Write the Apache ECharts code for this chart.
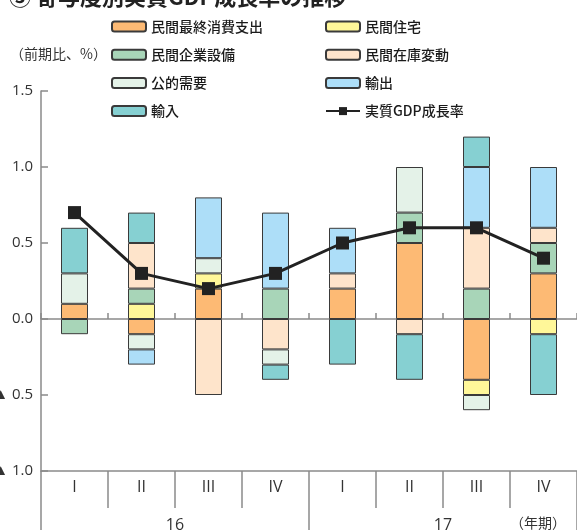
<!DOCTYPE html>
<html>
<head>
<meta charset="utf-8">
<script src="https://cdn.jsdelivr.net/npm/echarts@6/dist/echarts.min.js"></script>
<style>
  html, body { margin: 0; padding: 0; background: #fff; }
  #chart { width: 577px; height: 530px; }
</style>
</head>
<body>
<div id="chart"></div>
<script>
// Quarterly contributions to real GDP growth (q/q, %)
const quarters = ['I', 'II', 'III', 'IV', 'I', 'II', 'III', 'IV'];
const years = ['16', '17'];

const consumption  = [0.1, -0.1, 0.2, 0, 0.2, 0.5, -0.4, 0.3];
const housing      = [0, 0.1, 0.1, 0, 0, 0, -0.1, -0.1];
const capex        = [-0.1, 0.1, 0, 0.2, 0, 0.2, 0.2, 0.2];
const inventory    = [0, 0.3, -0.5, -0.2, 0.1, -0.1, 0.4, 0.1];
const publicDemand = [0.2, -0.1, 0.1, -0.1, 0, 0.3, -0.1, 0];
const exportsC     = [0, -0.1, 0.4, 0.5, 0.3, 0, 0.4, 0.4];
const importsC     = [0.3, 0.2, 0, -0.1, -0.3, -0.3, 0.2, -0.4];
const gdpGrowth    = [0.7, 0.3, 0.2, 0.3, 0.5, 0.6, 0.6, 0.4];

const yTicks = { min: -1, max: 1.5, interval: 0.5 };

const barDefs = [
  { name: '民間最終消費支出', data: consumption,  color: '#FDBA74' },
  { name: '民間住宅',         data: housing,      color: '#FFF799' },
  { name: '民間企業設備',     data: capex,        color: '#A8D5B8' },
  { name: '民間在庫変動',     data: inventory,    color: '#FEE4CB' },
  { name: '公的需要',         data: publicDemand, color: '#E4F2E8' },
  { name: '輸出',             data: exportsC,     color: '#ADDEF8' },
  { name: '輸入',             data: importsC,     color: '#86D0D2' }
];

const axisGray = '#8a8a8a';
const fontLatin = '"Open Sans", sans-serif';
const fontJP = '"Noto Sans CJK JP", sans-serif';

const series = barDefs.map(d => ({
  name: d.name,
  type: 'bar',
  stack: 'contrib',
  xAxisIndex: 0,
  barWidth: 27,
  data: d.data.map(v => (v === 0 ? null : v)),
  itemStyle: { color: d.color, borderColor: '#3a3a3a', borderWidth: 1 },
  emphasis: { disabled: true }
}));

series.push({
  name: '実質GDP成長率',
  type: 'line',
  xAxisIndex: 0,
  data: gdpGrowth,
  symbol: 'rect',
  symbolSize: 13,
  lineStyle: { color: '#222', width: 3 },
  itemStyle: { color: '#222' },
  z: 10
});

const legendBase = {
  orient: 'vertical',
  padding: 0,
  itemWidth: 34,
  itemHeight: 10,
  itemGap: 9.2,
  itemTextGap: 4,
  selectedMode: false,
  textStyle: { fontSize: 14, lineHeight: 19, color: '#1a1a1a', fontFamily: fontJP, fontWeight: 500 }
};

const chart = echarts.init(document.getElementById('chart'), null, { renderer: 'canvas' });

chart.setOption({
  animation: false,
  title: {
    text: '③ 寄与度別実質GDP成長率の推移',
    left: 4,
    top: -19,
    textStyle: { fontSize: 22, fontWeight: 'bold', color: '#222', fontFamily: fontJP }
  },
  legend: [
    Object.assign({}, legendBase, {
      left: 111, top: 17,
      data: ['民間最終消費支出', '民間企業設備', '公的需要', '輸入']
    }),
    Object.assign({}, legendBase, {
      left: 325, top: 17,
      data: ['民間住宅', '民間在庫変動', '輸出', '実質GDP成長率']
    })
  ],
  grid: { left: 41, right: 0, top: 91, bottom: 59, outerBoundsMode: 'none', containLabel: false },
  xAxis: [
    {
      // quarter labels along the bottom
      type: 'category',
      data: quarters,
      position: 'bottom',
      axisLine: { onZero: false, lineStyle: { color: axisGray, width: 1.5 } },
      axisTick: { show: true, length: 37, lineStyle: { color: axisGray, width: 1.5 } },
      axisLabel: { margin: 8, fontSize: 16, color: '#333', fontFamily: fontLatin }
    },
    {
      // zero line with small upward ticks
      type: 'category',
      data: quarters,
      position: 'bottom',
      axisLine: { onZero: true, lineStyle: { color: axisGray, width: 1.5 } },
      axisTick: { show: true, inside: true, length: 6, lineStyle: { color: axisGray, width: 1.5 } },
      axisLabel: { show: false }
    },
    {
      // year row
      type: 'category',
      data: years,
      position: 'bottom',
      offset: 37,
      axisLine: { show: false, onZero: false },
      axisTick: { show: true, length: 22, lineStyle: { color: axisGray, width: 1.5 } },
      axisLabel: { margin: 9, fontSize: 16, color: '#333', fontFamily: fontLatin }
    }
  ],
  yAxis: {
    type: 'value',
    min: yTicks.min,
    max: yTicks.max,
    interval: yTicks.interval,
    splitLine: { show: false },
    axisLine: { show: true, lineStyle: { color: axisGray, width: 1.5 } },
    axisTick: { show: true, inside: true, length: 7, lineStyle: { color: axisGray, width: 1.5 } },
    axisLabel: {
      margin: 8,
      fontSize: 15,
      color: '#333',
      fontFamily: fontLatin,
      formatter: v => (v < 0 ? '▲ ' + Math.abs(v).toFixed(1) : v.toFixed(1))
    }
  },
  graphic: [
    {
      type: 'text',
      left: 10,
      top: 47,
      style: { text: '（前期比、%）', fontSize: 14, fill: '#333', fontFamily: fontJP }
    },
    {
      type: 'text',
      left: 510,
      top: 516,
      style: { text: '（年期）', fontSize: 14, fill: '#333', fontFamily: fontJP }
    }
  ],
  series: series
});
</script>
</body>
</html>
